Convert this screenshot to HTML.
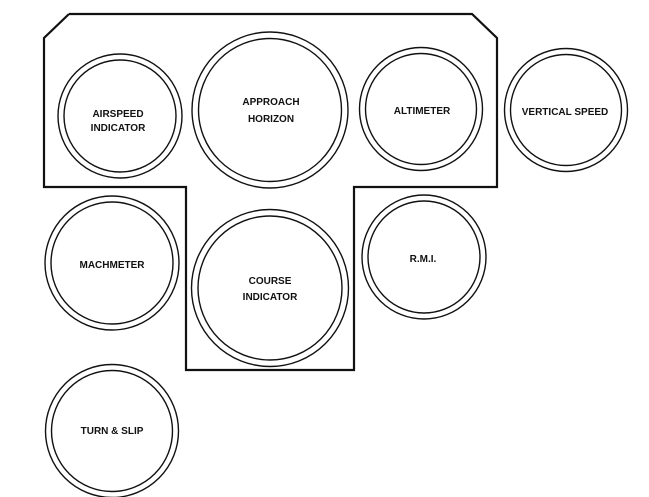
<!DOCTYPE html>
<html><head><meta charset="utf-8"><style>
html,body{margin:0;padding:0;background:#fff;}
svg{display:block;}
text{font-family:"Liberation Sans",Arial,sans-serif;font-weight:bold;font-size:10px;fill:#111;text-anchor:middle;}
</style></head><body>
<svg width="649" height="497" viewBox="0 0 649 497" xmlns="http://www.w3.org/2000/svg">
<polyline points="69,14 472,14 497,38 497,187 354,187 354,370 186,370 186,187 44,187 44,38 69,14" fill="none" stroke="#111" stroke-width="2.2" stroke-linejoin="miter"/>
<g fill="none" stroke="#111" stroke-width="1.4">
<circle cx="120" cy="116" r="62"/><circle cx="120" cy="116" r="56"/>
<circle cx="270" cy="110" r="78"/><circle cx="270" cy="110" r="71.5"/>
<circle cx="421" cy="109" r="61.5"/><circle cx="421" cy="109" r="55.5"/>
<circle cx="566" cy="110" r="61.5"/><circle cx="566" cy="110" r="55.5"/>
<circle cx="112" cy="263" r="67"/><circle cx="112" cy="263" r="61"/>
<circle cx="270" cy="288" r="78.5"/><circle cx="270" cy="288" r="72"/>
<circle cx="424" cy="257" r="62"/><circle cx="424" cy="257" r="56"/>
<circle cx="112" cy="431" r="66.5"/><circle cx="112" cy="431" r="60.5"/>
</g>
<text x="118" y="117">AIRSPEED</text>
<text x="118" y="131">INDICATOR</text>
<text x="271" y="105">APPROACH</text>
<text x="271" y="122">HORIZON</text>
<text x="422" y="114">ALTIMETER</text>
<text x="565" y="115">VERTICAL SPEED</text>
<text x="112" y="268">MACHMETER</text>
<text x="270" y="284">COURSE</text>
<text x="270" y="300">INDICATOR</text>
<text x="423" y="262">R.M.I.</text>
<text x="112" y="434">TURN &amp; SLIP</text>
</svg>
</body></html>
